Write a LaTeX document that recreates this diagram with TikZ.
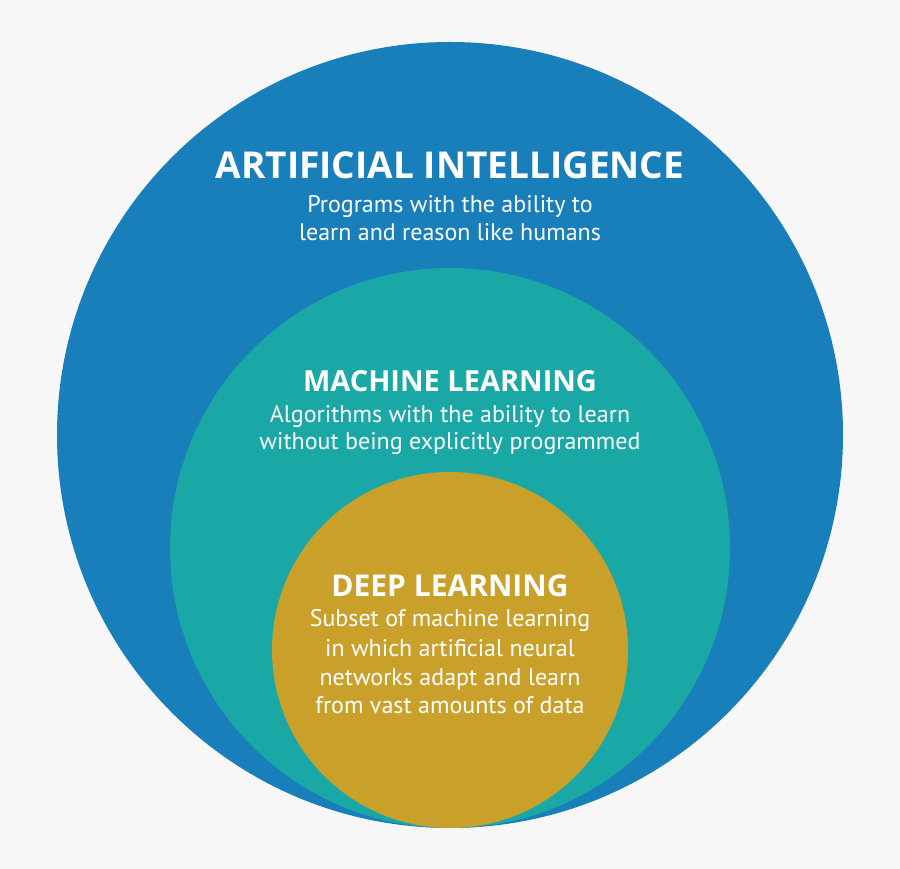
\documentclass[tikz,border=0pt]{standalone}
\usepackage{fontspec}
\setmainfont{PT Sans}
\newfontfamily\titlefont{Open Sans}
\definecolor{bg}{RGB}{247,247,247}
\definecolor{aiblue}{RGB}{24,127,187}
\definecolor{mlteal}{RGB}{26,168,166}
\definecolor{dlgold}{RGB}{201,160,42}
\tikzset{
  ring/.style={circle, inner sep=0pt, outer sep=0pt, draw=none},
  ttl/.style={text=white, anchor=base, inner sep=0pt, font=\titlefont\bfseries\fontsize{#1}{#1}\selectfont},
  sub/.style={text=white, anchor=base, inner sep=0pt, font=\fontsize{24}{24}\selectfont},
}
\begin{document}
\begin{tikzpicture}[x=1pt,y=1pt]
\fill[bg] (0,0) rectangle (900,869);
\useasboundingbox (0,0) rectangle (900,869);
\node[ring, fill=aiblue, minimum size=786pt] (ai) at (450,434) {};
\node[ring, fill=mlteal, minimum size=560pt] (ml) at (450,321) {};
\node[ring, fill=dlgold, minimum size=356pt] (dl) at (450,219) {};
% AI
\node[ttl=37] (ait) at (450,690) {ARTIFICIAL INTELLIGENCE};
\node[sub] (ai1) at (450,656) {Programs with the ability to};
\node[sub] (ai2) at (450,628) {learn and reason like humans};
% ML
\node[ttl=29] (mlt) at (450,477) {MACHINE LEARNING};
\node[sub] (ml1) at (450,446) {Algorithms with the ability to learn};
\node[sub] (ml2) at (450,419) {without being explicitly programmed};
% DL
\node[ttl=30] (dlt) at (450,272) {DEEP LEARNING};
\node[sub] (dl1) at (450,242) {Subset of machine learning};
\node[sub] (dl2) at (450,212) {in which artificial neural};
\node[sub] (dl3) at (450,183) {networks adapt and learn};
\node[sub] (dl4) at (450,155) {from vast amounts of data};
\end{tikzpicture}
\end{document}
